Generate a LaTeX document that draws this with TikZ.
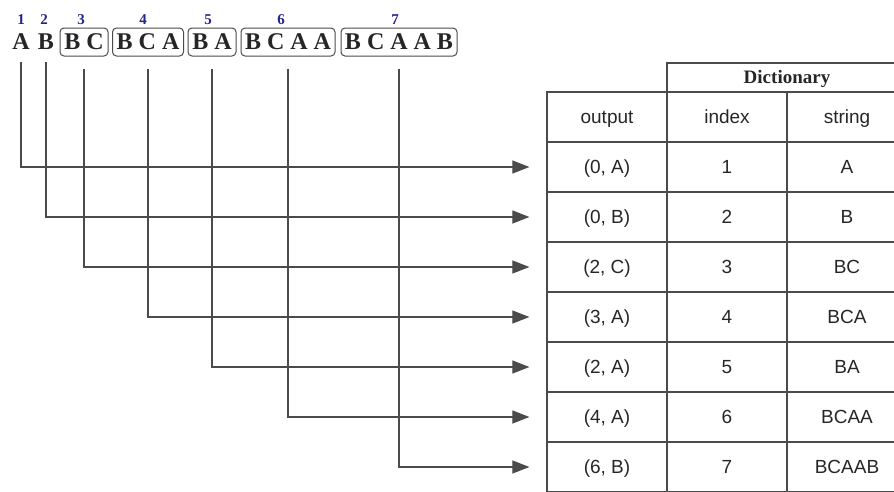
\documentclass[tikz,border=0pt]{standalone}
\usepackage{fontspec}
\setmainfont{Liberation Serif}
\setsansfont{Liberation Sans}
\usepackage{xcolor}
\usetikzlibrary{arrows.meta,positioning}
\definecolor{numblue}{RGB}{35,35,140}
\definecolor{linegray}{RGB}{75,75,75}
\tikzset{
	letter/.style={font=\fontsize{24}{26}\selectfont\bfseries, inner sep=0pt, text=black!85},
	phrase/.style={letter, draw=linegray, line width=1pt, rounded corners=4pt,
			minimum height=28pt, inner xsep=3pt},
	num/.style={font=\fontsize{15}{17}\selectfont\bfseries, text=numblue, inner sep=0pt},
	cell/.style={draw=linegray, line width=1.2pt, minimum width=120pt, minimum height=50pt,
			inner sep=0pt, text height=13.6pt, text depth=0pt, text=black!85,
			font=\sffamily\fontsize{19}{21}\selectfont},
	link/.style={draw=linegray, line width=1.1pt, -{Triangle[length=17pt,width=13pt]}}
}

\begin{document}
\begin{tikzpicture}[x=1pt, y=-1pt]
				\useasboundingbox (0,0) rectangle (894,491);
				\clip (0,0) rectangle (894,491);
				% the input, cut into phrases
				\node [letter] (a) at (21,42) {A};
				\node [letter] (b) at (46,42) {B};
				\node [phrase, minimum width=48pt] (bc) at (84,42) {B C};
				\node [phrase, minimum width=71pt] (bca) at (148,42) {B C A};
				\node [phrase, minimum width=48pt] (ba) at (212,42) {B A};
				\node [phrase, minimum width=94pt] (bcaa) at (288,42) {B C A A};
				\node [phrase, minimum width=116pt] (bcaab) at (399,42) {B C A A B};
				\foreach \n/\x in {1/21, 2/44, 3/81, 4/143, 5/208, 6/281, 7/395}
					\node [num] (n\n) at (\x,20) {\n};

				% the table
				\node [cell, minimum width=240pt, minimum height=29pt, text height=12.5pt,
					font=\fontsize{19}{21}\selectfont\bfseries] (dict) at (787,77.5) {Dictionary};
				\node [cell] (hout) at (607,117) {output};
				\node [cell] (hidx) at (727,117) {index};
				\node [cell] (hstr) at (847,117) {string};
				\foreach \i/\o/\s in {1/{(0, A)}/A, 2/{(0, B)}/B, 3/{(2, C)}/BC, 4/{(3, A)}/BCA,
						5/{(2, A)}/BA, 6/{(4, A)}/BCAA, 7/{(6, B)}/BCAAB} {
					\node [cell] (o\i) at (607,117+50*\i) {\o};
					\node [cell] (i\i) at (727,117+50*\i) {\i};
					\node [cell] (s\i) at (847,117+50*\i) {\s};
				}

				% from each phrase to its output
				\foreach \p/\i in {a/1, b/2, bc/3, bca/4, ba/5, bcaa/6, bcaab/7}
					\draw [link] ([yshift=-12pt]\p.south) |- ([xshift=-17pt]o\i.west);
			\end{tikzpicture}
\end{document}
